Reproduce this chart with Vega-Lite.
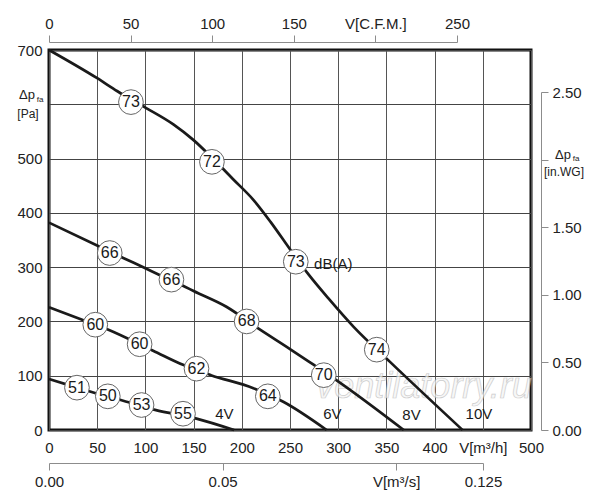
{
  "$schema": "https://vega.github.io/schema/vega-lite/v6.json",
  "width": 482,
  "height": 380,
  "autosize": {"type": "none"},
  "padding": {"left": 49, "top": 50, "right": 69, "bottom": 70},
  "background": "white",
  "config": {
    "font": "Liberation Sans",
    "view": {"stroke": "#111111", "strokeWidth": 3},
    "axis": {
      "labelFont": "Liberation Sans",
      "labelFontSize": 15,
      "labelColor": "#222222",
      "labelFlush": false,
      "labelOverlap": false,
      "domainColor": "#8c8c8c",
      "tickColor": "#8c8c8c"
    }
  },
  "resolve": {"scale": {"x": "independent", "y": "independent"}},
  "layer": [
    {
      "encoding": {
        "x": {
          "field": "q", "type": "quantitative",
          "scale": {"domain": [0, 500], "nice": false},
          "axis": {
            "orient": "bottom", "title": null,
            "values": [0, 50, 100, 150, 200, 250, 300, 350, 400, 450, 500],
            "labelExpr": "datum.value == 450 ? 'V[m³/h]' : datum.label",
            "ticks": false, "domain": false, "labelPadding": 10,
            "grid": true, "gridColor": "#555555", "gridWidth": 1
          }
        },
        "y": {
          "field": "p", "type": "quantitative",
          "scale": {"domain": [0, 700], "nice": false},
          "axis": {
            "orient": "left", "title": null,
            "values": [0, 100, 200, 300, 400, 500, 600, 700],
            "labelExpr": "datum.value == 600 ? '' : datum.label",
            "ticks": false, "domain": false, "labelPadding": 7,
            "grid": true, "gridColor": "#444444", "gridWidth": 1
          }
        }
      },
      "layer": [
        {
          "data": {"values": [{"q": 389, "p": 80, "t": "ventilatorry.ru"}]},
          "mark": {"type": "text", "fontSize": 36, "fontStyle": "italic", "fill": "#f4f4f4", "stroke": "#b8b8b8", "strokeWidth": 0.7, "opacity": 0.7, "baseline": "middle", "align": "center"},
          "encoding": {"text": {"field": "t"}}
        },
        {
          "data": {"values": [
            {"v": "10V", "q": 0, "p": 700}, {"v": "10V", "q": 50, "p": 648}, {"v": "10V", "q": 71, "p": 624},
            {"v": "10V", "q": 100, "p": 594}, {"v": "10V", "q": 129, "p": 563}, {"v": "10V", "q": 150, "p": 534},
            {"v": "10V", "q": 170, "p": 500}, {"v": "10V", "q": 191, "p": 462}, {"v": "10V", "q": 212, "p": 424},
            {"v": "10V", "q": 230, "p": 383}, {"v": "10V", "q": 250, "p": 333}, {"v": "10V", "q": 269, "p": 287},
            {"v": "10V", "q": 291, "p": 240}, {"v": "10V", "q": 316, "p": 190}, {"v": "10V", "q": 354, "p": 125},
            {"v": "10V", "q": 429, "p": 0},
            {"v": "8V", "q": 0, "p": 382}, {"v": "8V", "q": 51, "p": 339}, {"v": "8V", "q": 77, "p": 317},
            {"v": "8V", "q": 100, "p": 298}, {"v": "8V", "q": 113, "p": 287}, {"v": "8V", "q": 141, "p": 264},
            {"v": "8V", "q": 150, "p": 256}, {"v": "8V", "q": 184, "p": 227}, {"v": "8V", "q": 217, "p": 187},
            {"v": "8V", "q": 250, "p": 149}, {"v": "8V", "q": 272, "p": 123}, {"v": "8V", "q": 298, "p": 92},
            {"v": "8V", "q": 368, "p": 0},
            {"v": "6V", "q": 0, "p": 226}, {"v": "6V", "q": 33, "p": 204}, {"v": "6V", "q": 61, "p": 185},
            {"v": "6V", "q": 108, "p": 146}, {"v": "6V", "q": 139, "p": 120}, {"v": "6V", "q": 168, "p": 101},
            {"v": "6V", "q": 212, "p": 77}, {"v": "6V", "q": 243, "p": 52}, {"v": "6V", "q": 288, "p": 0},
            {"v": "4V", "q": 0, "p": 94}, {"v": "4V", "q": 29, "p": 78}, {"v": "4V", "q": 46, "p": 69},
            {"v": "4V", "q": 77, "p": 54}, {"v": "4V", "q": 110, "p": 37}, {"v": "4V", "q": 153, "p": 21},
            {"v": "4V", "q": 192, "p": 0}
          ]},
          "mark": {"type": "line", "interpolate": "monotone", "color": "#1a1a1a", "strokeWidth": 2.7},
          "encoding": {"detail": {"field": "v"}}
        },
        {
          "data": {"values": [
            {"q": 85, "p": 604, "db": "73"}, {"q": 169, "p": 494, "db": "72"}, {"q": 256, "p": 310, "db": "73"}, {"q": 340, "p": 148, "db": "74"},
            {"q": 63, "p": 326, "db": "66"}, {"q": 127, "p": 277, "db": "66"}, {"q": 205, "p": 200, "db": "68"}, {"q": 285, "p": 101, "db": "70"},
            {"q": 48, "p": 194, "db": "60"}, {"q": 94, "p": 158, "db": "60"}, {"q": 153, "p": 113, "db": "62"}, {"q": 227, "p": 62, "db": "64"},
            {"q": 29, "p": 78, "db": "51"}, {"q": 61, "p": 62, "db": "50"}, {"q": 96, "p": 46, "db": "53"}, {"q": 139, "p": 30, "db": "55"}
          ]},
          "layer": [
            {
              "mark": {"type": "point", "shape": "circle", "filled": true, "fill": "white", "stroke": "#666666", "strokeWidth": 1, "size": 610, "opacity": 1}
            },
            {
              "mark": {"type": "text", "fontSize": 16, "color": "#1a1a1a", "baseline": "middle", "align": "center"},
              "encoding": {"text": {"field": "db"}}
            }
          ]
        },
        {
          "data": {"values": [
            {"q": 182, "p": 29, "t": "4V"}, {"q": 294, "p": 29, "t": "6V"},
            {"q": 376, "p": 28, "t": "8V"}, {"q": 446, "p": 29, "t": "10V"}
          ]},
          "mark": {"type": "text", "fontSize": 15, "color": "#1a1a1a", "baseline": "middle", "align": "center"},
          "encoding": {"text": {"field": "t"}}
        },
        {
          "data": {"values": [{"q": 275, "p": 306, "t": "dB(A)"}]},
          "mark": {"type": "text", "fontSize": 15, "color": "#1a1a1a", "baseline": "middle", "align": "left"},
          "encoding": {"text": {"field": "t"}}
        },
        {
          "data": {"values": [{"q": 0, "p": 600}]},
          "layer": [
            {"mark": {"type": "text", "text": "Δp", "fontSize": 13, "color": "#222222", "align": "center", "baseline": "alphabetic", "dx": -22, "dy": -5}},
            {"mark": {"type": "text", "text": "fa", "fontSize": 8, "color": "#222222", "align": "center", "baseline": "alphabetic", "dx": -9, "dy": -2}},
            {"mark": {"type": "text", "text": "[Pa]", "fontSize": 12, "color": "#222222", "align": "center", "baseline": "alphabetic", "dx": -21, "dy": 14}}
          ]
        },
        {
          "data": {"values": [{"q": 500, "p": 498.2}]},
          "layer": [
            {"mark": {"type": "text", "text": "Δp", "fontSize": 13, "color": "#222222", "align": "center", "baseline": "alphabetic", "dx": 32, "dy": -1}},
            {"mark": {"type": "text", "text": "fa", "fontSize": 8, "color": "#222222", "align": "center", "baseline": "alphabetic", "dx": 45, "dy": 1}},
            {"mark": {"type": "text", "text": "[in.WG]", "fontSize": 12, "color": "#222222", "align": "center", "baseline": "alphabetic", "dx": 33, "dy": 16}}
          ]
        }
      ]
    },
    {
      "data": {"values": [{"cfm": 0}, {"cfm": 250}]},
      "mark": {"type": "point", "opacity": 0},
      "encoding": {
        "x": {
          "field": "cfm", "type": "quantitative",
          "scale": {"domain": [0, 250], "range": [0, 408], "nice": false},
          "axis": {
            "orient": "top", "title": null,
            "values": [0, 50, 100, 150, 200, 250],
            "labelExpr": "datum.value == 200 ? 'V[C.F.M.]' : datum.label",
            "offset": 8, "tickSize": 7, "labelPadding": 4, "grid": false
          }
        }
      }
    },
    {
      "data": {"values": [{"ms": 0}, {"ms": 0.125}]},
      "mark": {"type": "point", "opacity": 0},
      "encoding": {
        "x": {
          "field": "ms", "type": "quantitative",
          "scale": {"domain": [0, 0.125], "range": [0, 434], "nice": false},
          "axis": {
            "orient": "bottom", "title": null,
            "values": [0, 0.05, 0.1, 0.125],
            "labelExpr": "datum.value == 0 ? '0.00' : datum.value == 0.05 ? '0.05' : datum.value == 0.125 ? '0.125' : 'V[m³/s]'",
            "offset": 33, "tickSize": 7, "labelPadding": 4, "grid": false
          }
        }
      }
    },
    {
      "data": {"values": [{"wg": 0}, {"wg": 2.5}]},
      "mark": {"type": "point", "opacity": 0},
      "encoding": {
        "y": {
          "field": "wg", "type": "quantitative",
          "scale": {"domain": [0, 2.5], "range": [380, 42], "nice": false},
          "axis": {
            "orient": "right", "title": null,
            "values": [0, 0.5, 1, 1.5, 2, 2.5],
            "format": ".2f",
            "labelExpr": "datum.value == 2 ? '' : datum.label",
            "offset": 10, "tickSize": 7, "labelPadding": 4, "grid": false
          }
        }
      }
    }
  ]
}
